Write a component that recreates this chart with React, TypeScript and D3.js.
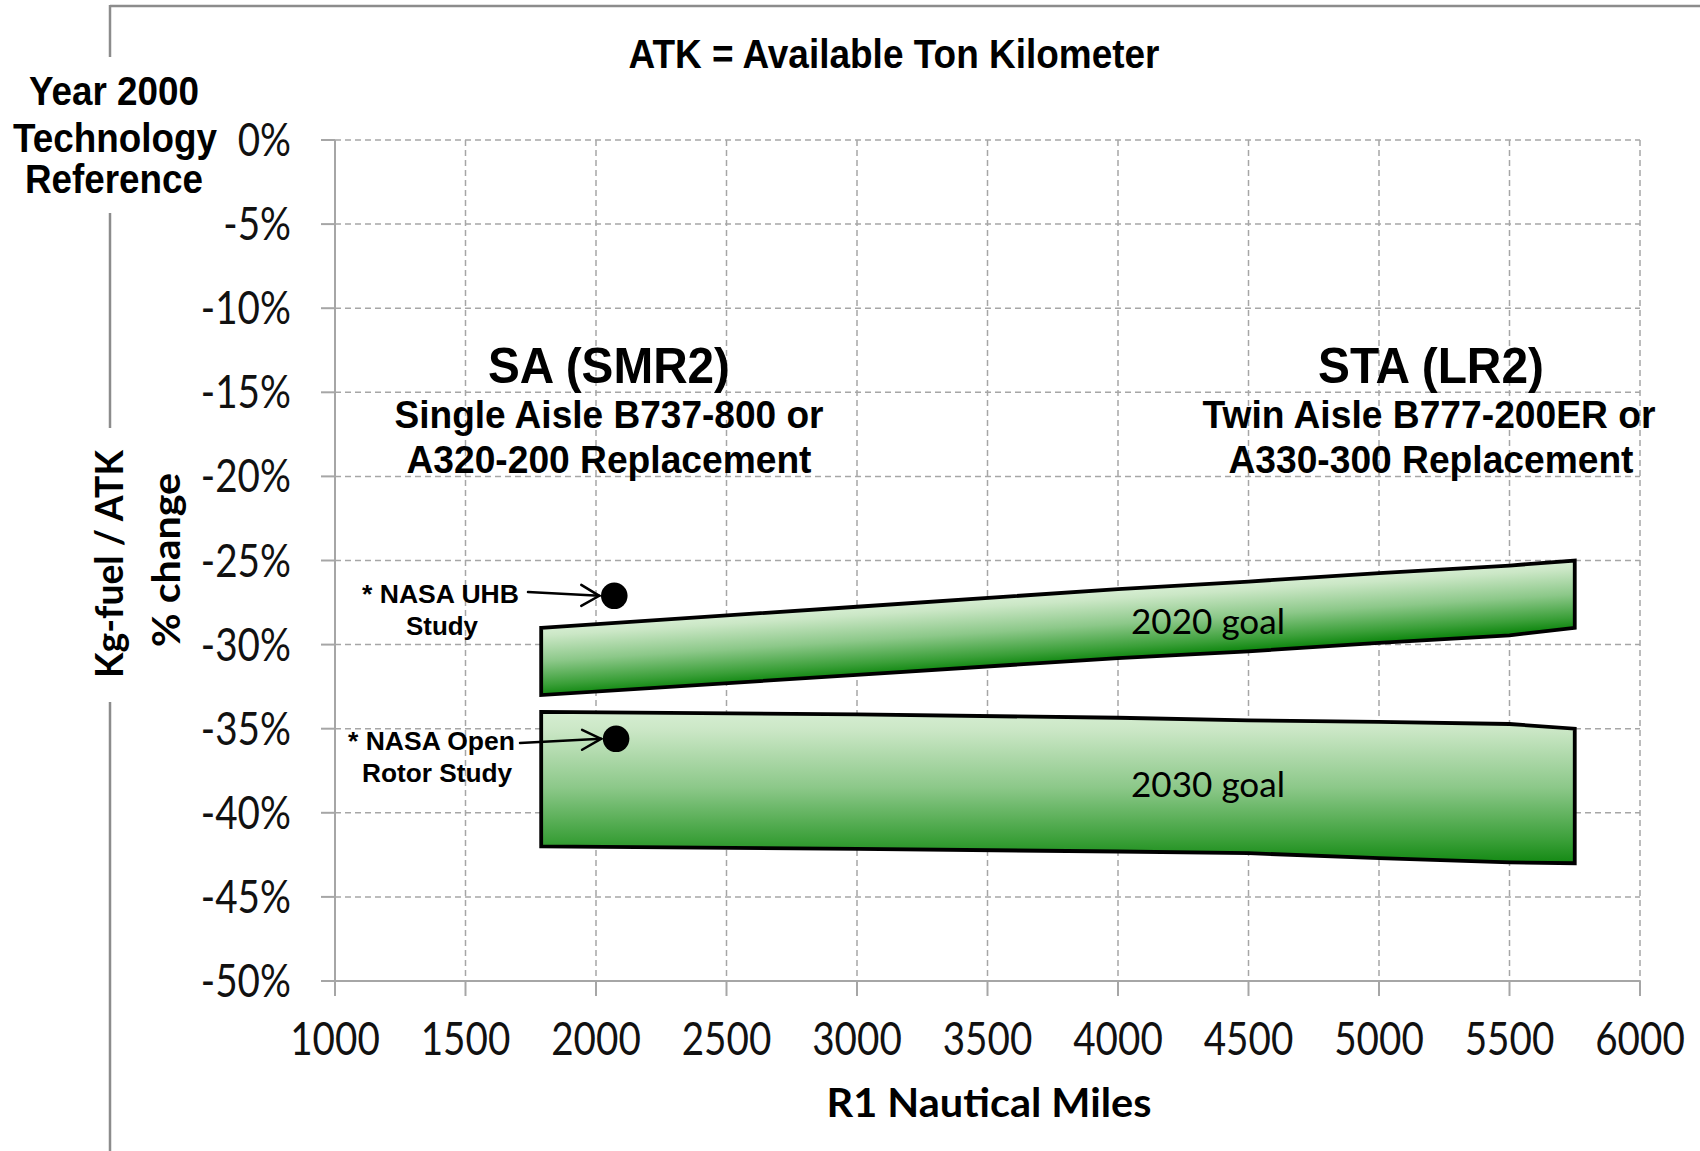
import React from "react";
import * as d3 from "d3";

const xTicks = [1000, 1500, 2000, 2500, 3000, 3500, 4000, 4500, 5000, 5500, 6000];
const yTicks = [0, -5, -10, -15, -20, -25, -30, -35, -40, -45, -50];

// [nautical miles, % change]
const goal2020Top: [number, number][] = [[1790, -29], [3000, -27.75], [4000, -26.7], [4500, -26.25], [5000, -25.75], [5500, -25.3], [5750, -25]];
const goal2020Bottom: [number, number][] = [[1790, -33], [3000, -31.8], [4000, -30.8], [4500, -30.4], [5000, -29.9], [5500, -29.45], [5750, -29]];
const goal2030Top: [number, number][] = [[1790, -34], [3000, -34.15], [4000, -34.35], [4500, -34.5], [5000, -34.6], [5500, -34.72], [5750, -35]];
const goal2030Bottom: [number, number][] = [[1790, -42], [3000, -42.15], [4000, -42.3], [4500, -42.4], [5000, -42.7], [5500, -42.95], [5750, -43]];

const studyNames = ["UHB", "Open Rotor"];
const studyX = [2070, 2077];
const studyY = [-27.1, -35.6];

const W = 1700;
const H = 1151;
const ARIAL = "'Liberation Sans', Arial, sans-serif";
const CAL = "Lato, 'Open Sans', sans-serif";
const GRID = "#a6a6a6";

const x = d3.scaleLinear().domain([1000, 6000]).range([335, 1640]);
const y = d3.scaleLinear().domain([0, -50]).range([140, 981]);

const line = d3.line<[number, number]>().x((d) => x(d[0])).y((d) => y(d[1])).curve(d3.curveLinear);

function bandPath(top: [number, number][], bottom: [number, number][]) {
  const pts = [...top, ...bottom.slice().reverse()];
  return line(pts) + "Z";
}

function T(props: {
  x: number; y: number; size: number; w?: number; anchor?: string; weight?: string | number;
  family?: string; rotate?: boolean; children: React.ReactNode; adjust?: string;
}) {
  const { x: tx, y: ty, size, w, anchor = "middle", weight = "bold", family = ARIAL, rotate, children, adjust = "spacingAndGlyphs" } = props;
  return (
    <text
      transform={`translate(${tx},${ty})${rotate ? " rotate(-90)" : ""}`}
      textAnchor={anchor}
      fontFamily={family}
      fontWeight={weight}
      fontSize={size}
      fill="#000"
      {...(w ? { textLength: w, lengthAdjust: adjust } : {})}
    >
      {children}
    </text>
  );
}

export default function App() {
  // skewed gradient for 2020 band so light edge follows the slanted top
  const x0 = x(goal2020Top[0][0]);
  const x1 = x(goal2020Top[goal2020Top.length - 1][0]);
  const yA = y(goal2020Top[0][1]);
  const yB = y(goal2020Top[goal2020Top.length - 1][1]);
  const slope = (yB - yA) / (x1 - x0);
  const skewDeg = (Math.atan(slope) * 180) / Math.PI;
  const top0 = yA - x0 * slope;
  const thick = y(goal2020Bottom[0][1]) - y(goal2020Top[0][1]);

  const stops = [
    { o: 0, c: "#d6eed2" },
    { o: 0.12, c: "#cbe7c6" },
    { o: 0.5, c: "#8cc889" },
    { o: 0.85, c: "#3a9f38" },
    { o: 1, c: "#138913" },
  ];

  return (
    <svg width={W} height={H} style={{ position: "absolute", left: 0, top: 0, background: "#fff" }}>
      <defs>
        <linearGradient id="g2020" gradientUnits="userSpaceOnUse" x1={0} y1={top0} x2={0} y2={top0 + thick} gradientTransform={`skewY(${skewDeg})`}>
          {stops.map((s) => <stop key={s.o} offset={s.o} stopColor={s.c} />)}
        </linearGradient>
        <linearGradient id="g2030" x1={0} y1={0} x2={0} y2={1}>
          {stops.map((s) => <stop key={s.o} offset={s.o} stopColor={s.c} />)}
        </linearGradient>
      </defs>
      <rect width={W} height={H} fill="#fff" />

      {/* frame */}
      <g stroke="#8c8c8c" strokeWidth={2.5} fill="none">
        <line x1={110} y1={6} x2={W} y2={6} />
        <line x1={110} y1={5} x2={110} y2={57} />
        <line x1={110} y1={213} x2={110} y2={428} />
        <line x1={110} y1={702} x2={110} y2={H} />
      </g>

      {/* gridlines */}
      <g stroke={GRID} strokeWidth={1.5} strokeDasharray="6 4" fill="none">
        {yTicks.filter((v) => v !== -50).map((v) => (
          <line key={"h" + v} x1={x(1000)} x2={x(6000)} y1={y(v)} y2={y(v)} />
        ))}
        {xTicks.filter((v) => v !== 1000).map((v) => (
          <line key={"v" + v} x1={x(v)} x2={x(v)} y1={y(0)} y2={y(-50)} />
        ))}
      </g>
      {/* axes */}
      <g stroke={GRID} strokeWidth={2} fill="none">
        <line x1={x(1000)} x2={x(1000)} y1={y(0)} y2={y(-50)} />
        <line x1={x(1000)} x2={x(6000)} y1={y(-50)} y2={y(-50)} />
        {yTicks.map((v) => (
          <line key={"yt" + v} x1={x(1000) - 14} x2={x(1000)} y1={y(v)} y2={y(v)} />
        ))}
        {xTicks.map((v) => (
          <line key={"xt" + v} x1={x(v)} x2={x(v)} y1={y(-50)} y2={y(-50) + 15} />
        ))}
      </g>

      {/* tick labels */}
      {yTicks.map((v) => (
        <text key={"yl" + v} transform={`translate(291,${y(v) + 16}) scale(0.84,1)`} textAnchor="end" fontFamily={CAL} fontSize={46} fill="#111">
          {`${v}%`}
        </text>
      ))}
      {xTicks.map((v) => (
        <text key={"xl" + v} transform={`translate(${x(v)},1055) scale(0.84,1)`} textAnchor="middle" fontFamily={CAL} fontSize={46} fill="#111">
          {v}
        </text>
      ))}

      {/* bands */}
      <path d={bandPath(goal2020Top, goal2020Bottom)} fill="url(#g2020)" stroke="#000" strokeWidth={3.8} strokeLinejoin="miter" />
      <path d={bandPath(goal2030Top, goal2030Bottom)} fill="url(#g2030)" stroke="#000" strokeWidth={3.8} strokeLinejoin="miter" />
      <T x={1131} y={634} size={34} w={154} anchor="start" weight="normal" family={CAL}>2020 goal</T>
      <T x={1131} y={797} size={34} w={154} anchor="start" weight="normal" family={CAL}>2030 goal</T>

      {/* study points */}
      {studyNames.map((n, i) => (
        <circle key={n} cx={x(studyX[i])} cy={y(studyY[i])} r={13.3} fill="#000" />
      ))}
      {/* arrows */}
      <g stroke="#000" strokeWidth={2.5} fill="none" strokeLinecap="round">
        <line x1={528} y1={592} x2={x(studyX[0]) - 15} y2={y(studyY[0])} />
        <polyline points={`${x(studyX[0]) - 33},${y(studyY[0]) - 11} ${x(studyX[0]) - 15},${y(studyY[0])} ${x(studyX[0]) - 33},${y(studyY[0]) + 10}`} />
        <line x1={520} y1={743} x2={x(studyX[1]) - 15} y2={y(studyY[1])} />
        <polyline points={`${x(studyX[1]) - 34},${y(studyY[1]) - 9} ${x(studyX[1]) - 15},${y(studyY[1])} ${x(studyX[1]) - 34},${y(studyY[1]) + 11}`} />
      </g>
      <T x={362} y={603} size={25} w={157} anchor="start">* NASA UHB</T>
      <T x={442} y={635} size={25} w={72}>Study</T>
      <T x={348} y={750} size={25} w={167} anchor="start">* NASA Open</T>
      <T x={437} y={782} size={25} w={150}>Rotor Study</T>

      {/* titles */}
      <T x={894} y={68} size={41} w={531}>ATK = Available Ton Kilometer</T>
      <T x={114} y={105} size={40} w={170}>Year 2000</T>
      <T x={115} y={152} size={40} w={204}>Technology</T>
      <T x={114} y={193} size={40} w={178}>Reference</T>

      <T x={609} y={383} size={50} w={242}>SA (SMR2)</T>
      <T x={609} y={428} size={39} w={429}>Single Aisle B737-800 or</T>
      <T x={609} y={473} size={39} w={405}>A320-200 Replacement</T>
      <T x={1431} y={383} size={50} w={226}>STA (LR2)</T>
      <T x={1429} y={428} size={39} w={453}>Twin Aisle B777-200ER or</T>
      <T x={1431} y={473} size={39} w={405}>A330-300 Replacement</T>

      <T x={989} y={1117} size={40} w={325} family={CAL}>R1 Nautical Miles</T>
      <T x={123} y={564} size={39} w={228} family={CAL} rotate>Kg-fuel / ATK</T>
      <T x={180} y={560} size={39} w={174} family={CAL} rotate>% change</T>
    </svg>
  );
}
